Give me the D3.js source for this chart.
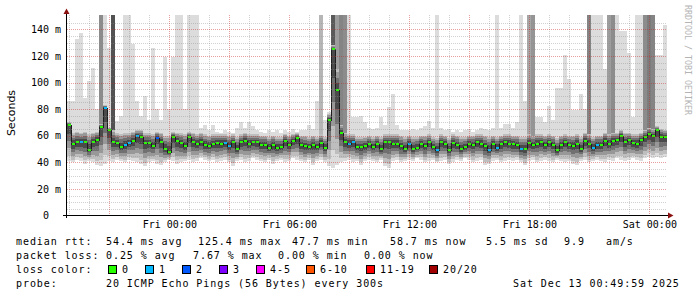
<!DOCTYPE html>
<html>
<head>
<meta charset="utf-8">
<script src="https://cdn.jsdelivr.net/npm/d3@7"></script>
<style>
body { margin: 0; background: #fff; }
svg text { font-family: "DejaVu Sans Mono", monospace; }
</style>
</head>
<body>
<svg id="chart" width="697" height="297"></svg>
<script>
// 30 hour smokeping graph, 12 minute bins, values in ms
var median = [
  68, 53.5, 55, 55, 55, 49.5, 55, 57, 66.5, 81,
  64, 55, 54.5, 51.5, 53, 54.5, 56, 59.5, 59, 54.5,
  54.5, 52.5, 58.5, 55, 50, 47.7, 59, 56, 54.5, 52,
  59, 55, 54, 55, 53, 52.5, 53.5, 54.5, 54, 54.5,
  52.5, 55, 50, 55, 56, 54, 55, 55, 53, 53,
  51, 53, 51, 51.5, 56, 53, 56, 58, 53, 52,
  51.5, 53, 51.5, 54.5, 51, 72, 125.4, 94, 62, 55,
  54, 55, 51.5, 51.5, 52, 54, 51.5, 54, 50, 55,
  55, 54, 54, 52, 50, 54, 50, 51, 54, 52,
  55, 51.5, 49, 55, 54, 49.5, 54.5, 53, 50, 51.5,
  54, 53, 55, 54, 52, 49.5, 53.5, 51, 53.5, 55,
  54, 53.5, 53, 50, 50, 54.5, 53, 54, 55, 53,
  55, 53, 49, 53, 55, 53, 52.5, 54, 50, 56,
  54, 51, 53, 53, 56, 54, 56, 56.5, 59.5, 55,
  56.5, 54.5, 54, 56.5, 59, 61.5, 59.5, 64, 59, 58.7
];
// slowest ping per bin (160 = off the top)
var smokeMax = [
  86, 86, 133, 137, 88, 101, 111, 80, 160, 160,
  126, 160, 71, 75, 160, 160, 129, 86, 75, 90,
  72, 126, 80, 72, 119, 80, 119.5, 160, 160, 80,
  160, 160, 160, 66, 68, 64, 68, 63, 62, 64,
  63, 62, 66, 70, 66, 70, 67, 64, 63, 62,
  64, 63, 64, 62, 64, 63, 65, 63, 64, 64,
  68, 65, 86, 160, 72, 78, 160, 160, 160, 160,
  160, 74, 74, 75, 70, 66, 65, 66, 74, 68,
  81.5, 91.5, 68, 64, 64, 64, 65, 64, 66, 67,
  71, 66, 160, 66, 64, 65, 63, 64, 63, 64,
  65, 63, 64, 66, 65, 64, 66, 160, 66, 69,
  69, 66, 70, 160, 86, 160, 160, 74, 74, 70,
  82.7, 72, 96, 96, 121, 103, 79, 79, 91.6, 80,
  160, 160, 160, 160, 110, 160, 160, 160, 139, 139,
  122, 74, 160, 160, 160, 160, 160, 121, 121, 143
];
// top of the dense part of the smoke
var smokeUpper = [
  64, 62, 63, 62, 63, 61, 62, 63, 66, 70,
  66, 64, 62, 61, 62, 62, 63, 64, 64, 62,
  62, 61, 63, 62, 60, 60, 63, 62, 62, 61,
  63, 62, 61, 62, 61, 60, 61, 61, 61, 61,
  60, 61, 59, 61, 62, 61, 61, 61, 60, 60,
  59, 60, 59, 59, 61, 60, 61, 62, 60, 60,
  59, 60, 59, 61, 59, 76, 128, 110, 68, 62,
  61, 61, 59, 59, 59, 60, 59, 60, 59, 61,
  61, 61, 61, 60, 59, 60, 59, 59, 60, 60,
  61, 59, 58, 61, 60, 58, 61, 60, 59, 59,
  60, 60, 61, 61, 60, 59, 60, 59, 60, 61,
  61, 60, 60, 59, 59, 61, 60, 61, 61, 60,
  61, 60, 58, 60, 61, 60, 60, 61, 59, 62,
  61, 59, 60, 60, 62, 61, 62, 62, 64, 62,
  62, 61, 61, 62, 64, 66, 65, 67, 65, 64
];
// fastest ping per bin
var smokeMin = [
  41, 40, 42, 41, 39, 41, 40, 38, 37, 39,
  41, 40, 42, 41, 40, 42, 41, 40, 39, 37,
  40, 41, 39, 38, 40, 42, 41, 39, 40, 41,
  42, 40, 41, 43, 42, 41, 42, 40, 41, 42,
  40, 37, 41, 42, 40, 41, 43, 42, 41, 40,
  42, 39, 41, 42, 40, 41, 43, 42, 41, 40,
  42, 38, 41, 42, 40, 37, 36, 38, 40, 41,
  42, 40, 41, 38, 41, 42, 41, 40, 42, 37,
  36, 41, 42, 40, 41, 42, 41, 43, 42, 40,
  41, 42, 40, 41, 42, 39, 40, 42, 41, 43,
  42, 40, 41, 42, 38, 39, 41, 42, 40, 41,
  42, 41, 42, 40, 38, 41, 42, 40, 41, 42,
  41, 40, 42, 41, 40, 41, 39, 38, 41, 42,
  40, 41, 42, 41, 40, 42, 41, 43, 42, 41,
  42, 43, 42, 41, 43, 44, 43, 44, 43, 44
];
// [bin, share of pings above the top]
var heavySpikes = [[8,0.45],[11,0.8],[63,0.2],[66,0.75],[67,0.35],[68,0.5],[69,0.45],
  [115,0.3],[116,0.4],[130,0.5],[135,0.35],[136,0.45],[144,0.45],[145,0.55],[146,0.5]];
// [bin, lost pings]
var lossEvents = [[3,1],[9,1],[14,1],[15,1],[17,1],[22,2],[39,1],[40,1],[70,1],[71,1],
  [85,1],[92,1],[105,1],[107,1],[113,1],[131,1],[132,1]];

var lossLabels = ["0", "1", "2", "3", "4-5", "6-10", "11-19", "20/20"];
var lossColors = ["#26ff00", "#00b8ff", "#0059ff", "#7e00ff", "#ff00ff", "#ff5500", "#ff0000", "#a00000"];
var rttStats = ["54.4 ms avg", "125.4 ms max", "47.7 ms min", "58.7 ms now", "5.5 ms sd", "9.9", "am/s"];
var lossStats = ["0.25 % avg", "7.67 % max", "0.00 % min", "0.00 % now"];
var probeText = "20 ICMP Echo Pings (56 Bytes) every 300s";
var stampText = "Sat Dec 13 00:49:59 2025";

var svg = d3.select("#chart");
var tStart = new Date(2025, 11, 11, 18, 53), tEnd = new Date(2025, 11, 13, 0, 53);
var binMs = 12 * 60000;
var x = d3.scaleTime().domain([tStart, tEnd]).range([67, 667]);
var y = d3.scaleLinear().domain([0, 150]).range([215.5, 16]);
var binTime = function(i) { return new Date(+tStart + i * binMs); };

svg.append("rect").attr("width", 697).attr("height", 297).attr("fill", "#fff");
svg.append("clipPath").attr("id", "plot").append("rect")
  .attr("x", 67).attr("y", 15).attr("width", 600).attr("height", 200);

var g = svg.append("g").attr("clip-path", "url(#plot)").attr("shape-rendering", "crispEdges");

function bar(i, lo, hi, color) {
  var top = Math.round(y(hi)), bot = Math.round(y(lo));
  if (bot <= top) return;
  var xl = Math.round(x(binTime(i)));
  g.append("rect")
    .attr("x", xl).attr("width", Math.round(x(binTime(i + 1))) - xl)
    .attr("y", top).attr("height", bot - top).attr("fill", color);
}

var spikeShade = d3.scaleLinear().domain([0, 1]).range(["#d8d8d8", "#303030"]);
var spikeMap = new Map(heavySpikes);

median.forEach(function(m, i) {
  var lo = smokeMin[i], up = Math.max(smokeUpper[i], m + 2), hi = Math.max(smokeMax[i], up);
  bar(i, lo, hi, "#dcdcdc");
  if (spikeMap.has(i)) bar(i, up - 2, 170, spikeShade(spikeMap.get(i)));
  bar(i, lo + 0.15 * (m - lo), up, "#bebebe");
  bar(i, lo + 0.35 * (m - lo), m + 0.85 * (up - m), "#989898");
  bar(i, lo + 0.55 * (m - lo), m + 0.6 * (up - m), "#707070");
  bar(i, lo + 0.75 * (m - lo), m + 0.35 * (up - m), "#4a4a4a");
});

// median
var lossMap = new Map(lossEvents);
function lossClass(n) {
  if (n <= 3) return n;
  if (n <= 5) return 4;
  if (n <= 10) return 5;
  if (n <= 19) return 6;
  return 7;
}
g.append("path")
  .datum(median)
  .attr("fill", "none").attr("stroke", "#1e1e1e").attr("stroke-width", 1)
  .attr("d", d3.line().curve(d3.curveStep)
    .x(function(d, i) { return Math.round(x(binTime(i + 0.5))) + 0.5; })
    .y(function(d) { return Math.round(y(d)); }));
g.selectAll(".med").data(median).enter().append("rect")
  .attr("x", function(d, i) { return Math.round(x(binTime(i))) + 1; })
  .attr("width", 3)
  .attr("y", function(d) { return Math.round(y(d)) - 1; })
  .attr("height", 2)
  .attr("fill", function(d, i) { return lossColors[lossClass(lossMap.get(i) || 0)]; });

// grid
var grid = svg.append("g").attr("shape-rendering", "crispEdges");
var minorY = d3.range(5, 150, 5);
var majorY = d3.range(20, 150, 20);
var hours = d3.timeHour.range(tStart, tEnd);
function hline(sel, data, color) {
  sel.selectAll(null).data(data).enter().append("line")
    .attr("x1", 67).attr("x2", 667)
    .attr("y1", function(d) { return Math.round(y(d)) + 0.5; }).attr("y2", function(d) { return Math.round(y(d)) + 0.5; })
    .attr("stroke", color).attr("stroke-dasharray", "1,1");
}
function vline(sel, data, color) {
  sel.selectAll(null).data(data).enter().append("line")
    .attr("y1", 15).attr("y2", 215)
    .attr("x1", function(d) { return Math.round(x(d)) + 0.5; }).attr("x2", function(d) { return Math.round(x(d)) + 0.5; })
    .attr("stroke", color).attr("stroke-dasharray", "1,1");
}
hline(grid, minorY.filter(function(v) { return v % 20; }), "rgba(140,140,140,0.4)");
vline(grid, hours.filter(function(d) { return d.getHours() % 3; }), "rgba(140,140,140,0.4)");
hline(grid, majorY, "rgba(200,40,40,0.45)");
vline(grid, hours.filter(function(d) { return d.getHours() % 3 === 0; }), "rgba(200,40,40,0.45)");

// axes
var yAxis = d3.axisLeft(y).tickValues(d3.range(0, 150, 20)).tickSize(0).tickPadding(6)
  .tickFormat(function(v) { return v === 0 ? "0\u00a0\u00a0" : v + "\u00a0m"; });
var ya = svg.append("g").attr("transform", "translate(67,0)").call(yAxis);
ya.select(".domain").remove();
ya.selectAll("text").attr("font-size", 10).attr("font-family", "DejaVu Sans Mono").attr("fill", "#000");

var xAxis = d3.axisBottom(x).tickValues(d3.timeHour.every(6).range(tStart, tEnd)).tickSize(0).tickPadding(6)
  .tickFormat(d3.timeFormat("%a %H:%M"));
var xa = svg.append("g").attr("transform", "translate(0,215)").call(xAxis);
xa.select(".domain").remove();
xa.selectAll("text").attr("font-size", 10).attr("font-family", "DejaVu Sans Mono").attr("fill", "#000");

svg.append("line").attr("x1", 63).attr("x2", 669).attr("y1", 215.5).attr("y2", 215.5).attr("stroke", "#000");
svg.append("line").attr("x1", 66.5).attr("x2", 66.5).attr("y1", 13).attr("y2", 218).attr("stroke", "#000");
svg.append("path").attr("d", "M668,212.5L673.5,215.5L668,218.5Z").attr("fill", "#8b1010");
svg.append("path").attr("d", "M63.5,14L66.5,8.5L69.5,14Z").attr("fill", "#8b1010");

svg.append("text").attr("transform", "translate(15,113) rotate(-90)")
  .attr("text-anchor", "middle").attr("font-size", 11).style("font-family", "'DejaVu Sans'")
  .text("Seconds");
svg.append("text").attr("transform", "translate(685,5) rotate(90)")
  .attr("font-size", 8.3).attr("fill", "#b4b4b4")
  .text("RRDTOOL / TOBI OETIKER");

// legend
var leg = svg.append("g").attr("font-size", 10).style("letter-spacing", "0.93px").attr("fill", "#000");
function ltext(xp, yp, s) { leg.append("text").attr("x", xp).attr("y", yp).text(s); }
ltext(16, 245, "median rtt:");
[106, 198, 292, 390, 486, 564, 606].forEach(function(xp, k) { ltext(xp, 245, rttStats[k]); });
ltext(16, 259, "packet loss:");
[106, 193, 278, 364].forEach(function(xp, k) { ltext(xp, 259, lossStats[k]); });
ltext(16, 273, "loss color:");
var boxX = [108, 145, 182, 219, 256, 306, 366, 429];
lossLabels.forEach(function(lab, k) {
  leg.append("rect").attr("x", boxX[k] + 0.5).attr("y", 265.5).attr("width", 8).attr("height", 8)
    .attr("fill", lossColors[k]).attr("stroke", "#000").attr("stroke-width", 1);
  ltext(boxX[k] + 14, 273, lab);
});
ltext(16, 287, "probe:");
ltext(106, 287, probeText);
ltext(513, 287, stampText);
</script>
</body>
</html>
